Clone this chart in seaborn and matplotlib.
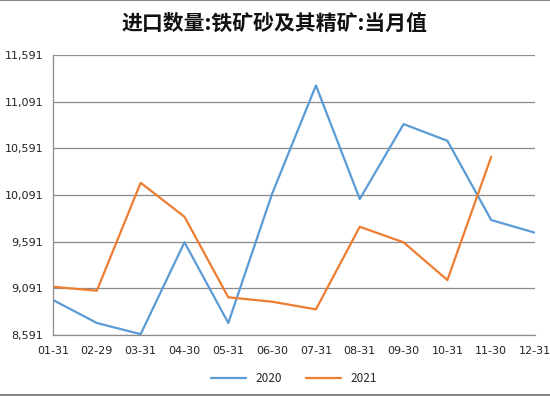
import matplotlib
matplotlib.use("Agg")
import matplotlib.pyplot as plt
import matplotlib.ticker as mticker
import seaborn as sns
import pandas as pd

months = ["01-31", "02-29", "03-31", "04-30", "05-31", "06-30",
          "07-31", "08-31", "09-30", "10-31", "11-30", "12-31"]
values_2020 = [8966, 8720, 8600, 9585, 8720, 10105, 11265, 10048, 10851, 10672, 9823, 9687]
values_2021 = [9108, 9066, 10222, 9858, 8995, 8948, 8866, 9751, 9584, 9180, 10501]
yticks = [8591, 9091, 9591, 10091, 10591, 11091, 11591]

rows = []
for i, v in enumerate(values_2020):
    rows.append({"idx": i, "value": v, "year": "2020"})
for i, v in enumerate(values_2021):
    rows.append({"idx": i, "value": v, "year": "2021"})
df = pd.DataFrame(rows)

sns.set_style("white")
plt.rcParams['font.family'] = ['Noto Sans CJK SC', 'DejaVu Sans']

fig = plt.figure(figsize=(5.5, 3.96), dpi=100)
ax = fig.add_axes([0.0964, 0.154, 0.8764, 0.707])

sns.lineplot(data=df, x="idx", y="value", hue="year",
             palette={"2020": "#5B9BD5", "2021": "#ED7D31"},
             linewidth=1.6, ax=ax, legend=True)

ax.set_xlim(0, len(months) - 1)
ax.set_ylim(yticks[0], yticks[-1])
ax.set_xticks(range(len(months)))
ax.set_xticklabels(months, fontsize=8, family=['DejaVu Sans'])
ax.set_yticks(yticks)
ax.yaxis.set_major_formatter(mticker.FuncFormatter(lambda v, p: f"{int(round(v)):,}"))
for lab in ax.get_yticklabels():
    lab.set_fontsize(8)
    lab.set_family(['DejaVu Sans'])
ax.set_xlabel("")
ax.set_ylabel("")

ax.grid(axis="y", color="#8c8c8c", linewidth=0.9)
ax.set_axisbelow(True)
for s in ["top", "right"]:
    ax.spines[s].set_visible(False)
for s in ["left", "bottom"]:
    ax.spines[s].set_color("#8c8c8c")
    ax.spines[s].set_linewidth(0.9)
ax.tick_params(axis="both", which="major", direction="out", length=4,
               color="#8c8c8c", width=0.9, pad=3, labelcolor="#222222")
ax.tick_params(axis="x", pad=4)

leg = ax.legend(loc="upper center", bbox_to_anchor=(0.5, -0.095), ncol=2,
                frameon=False, fontsize=8.5, handlelength=3, columnspacing=2)

fig.text(0.5, 0.94, "进口数量:铁矿砂及其精矿:当月值", ha="center", va="center",
         fontsize=15, fontweight="bold", color="#111111")

fig.add_artist(plt.Line2D([0, 1], [0.999, 0.999], color="#888888", linewidth=1.5,
                          transform=fig.transFigure))
fig.add_artist(plt.Line2D([0, 1], [0.003, 0.003], color="#888888", linewidth=1.5,
                          transform=fig.transFigure))

fig.savefig("out.png", dpi=100)
